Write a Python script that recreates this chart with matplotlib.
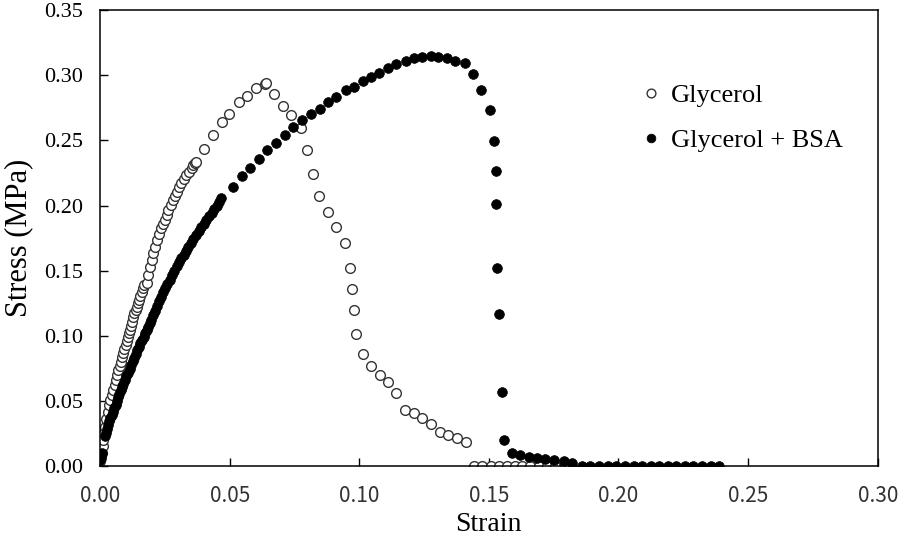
import matplotlib
matplotlib.use("Agg")
import matplotlib.pyplot as plt

# Glycerol (open circles)
gly_strain = [
    0.0000, 0.0002, 0.0007, 0.0010, 0.0013, 0.0015, 0.0019, 0.0024, 0.0030, 0.0035,
    0.0038, 0.0045, 0.0051, 0.0056, 0.0060, 0.0065, 0.0070, 0.0076, 0.0081, 0.0085,
    0.0090, 0.0094, 0.0099, 0.0103, 0.0107, 0.0111, 0.0115, 0.0118, 0.0122, 0.0127,
    0.0132, 0.0137, 0.0141, 0.0145, 0.0150, 0.0155, 0.0160, 0.0165, 0.0170, 0.0180,
    0.0186, 0.0192, 0.0199, 0.0205, 0.0212, 0.0218, 0.0227, 0.0237, 0.0243, 0.0250,
    0.0257, 0.0263, 0.0272, 0.0282, 0.0288, 0.0295, 0.0304, 0.0314, 0.0323, 0.0333,
    0.0342, 0.0353, 0.0360, 0.0365, 0.0372,
    0.0401, 0.0436, 0.0469, 0.0498, 0.0536, 0.0567, 0.0603, 0.0635, 0.0641, 0.0673,
    0.0705, 0.0737, 0.0776, 0.0800, 0.0820, 0.0846, 0.0878, 0.0910, 0.0946, 0.0963,
    0.0972, 0.0980, 0.0987, 0.1013, 0.1047, 0.1080, 0.1112, 0.1143, 0.1176, 0.1212,
    0.1243, 0.1276, 0.1312, 0.1343, 0.1376, 0.1410,
    0.1442, 0.1474, 0.1507, 0.1538, 0.1570, 0.1600, 0.1628, 0.1660, 0.1692, 0.1724,
    0.1757, 0.1795,
]
gly_stress = [
    0.0040, 0.0065, 0.0104, 0.0157, 0.0203, 0.0257, 0.0305, 0.0364, 0.0420, 0.0472,
    0.0510, 0.0548, 0.0587, 0.0625, 0.0663, 0.0702, 0.0740, 0.0773, 0.0804, 0.0836,
    0.0868, 0.0901, 0.0932, 0.0964, 0.0995, 0.1021, 0.1047, 0.1079, 0.1110, 0.1143,
    0.1175, 0.1200, 0.1225, 0.1251, 0.1277, 0.1308, 0.1340, 0.1367, 0.1392, 0.1405,
    0.1469, 0.1532, 0.1584, 0.1635, 0.1686, 0.1737, 0.1783, 0.1827, 0.1860, 0.1890,
    0.1929, 0.1967, 0.2005, 0.2044, 0.2074, 0.2107, 0.2140, 0.2172, 0.2205, 0.2235,
    0.2261, 0.2287, 0.2308, 0.2330, 0.2337,
    0.2435, 0.2542, 0.2642, 0.2699, 0.2798, 0.2837, 0.2899, 0.2933, 0.2939, 0.2853,
    0.2765, 0.2698, 0.2594, 0.2425, 0.2242, 0.2074, 0.1948, 0.1839, 0.1712, 0.1525,
    0.1361, 0.1202, 0.1016, 0.0860, 0.0773, 0.0704, 0.0650, 0.0566, 0.0433, 0.0413,
    0.0370, 0.0324, 0.0267, 0.0242, 0.0216, 0.0190,
    0.0, 0.0, 0.0, 0.0, 0.0, 0.0, 0.0, 0.0, 0.0, 0.0,
    0.0, 0.0,
]

# Glycerol + BSA (filled circles)
bsa_strain = [
    0.0000, 0.0003, 0.0006, 0.0020, 0.0024, 0.0028, 0.0032, 0.0036, 0.0040, 0.0045,
    0.0050, 0.0055, 0.0060, 0.0065, 0.0070, 0.0075, 0.0080, 0.0085, 0.0090, 0.0096,
    0.0102, 0.0108, 0.0114, 0.0120, 0.0126, 0.0132, 0.0138, 0.0144, 0.0150, 0.0156,
    0.0162, 0.0168, 0.0174, 0.0180, 0.0186, 0.0192, 0.0198, 0.0205, 0.0212, 0.0220,
    0.0228, 0.0236, 0.0244, 0.0252, 0.0260, 0.0269, 0.0278, 0.0287, 0.0296, 0.0305,
    0.0314, 0.0323, 0.0332, 0.0341, 0.0350, 0.0360, 0.0370, 0.0380, 0.0390, 0.0400,
    0.0410, 0.0420, 0.0430, 0.0440, 0.0450, 0.0460, 0.0468,
    0.0513, 0.0546, 0.0579, 0.0612, 0.0646, 0.0680, 0.0715, 0.0746, 0.0781, 0.0814,
    0.0848, 0.0881, 0.0912, 0.0947, 0.0981, 0.1013, 0.1047, 0.1077, 0.1112, 0.1143,
    0.1180, 0.1212, 0.1243, 0.1276, 0.1305, 0.1337, 0.1369, 0.1407, 0.1438, 0.1470,
    0.1503, 0.1520, 0.1526, 0.1528, 0.1533, 0.1541, 0.1549, 0.1558,
    0.1590, 0.1622, 0.1654, 0.1686, 0.1718, 0.1750, 0.1788, 0.1820,
    0.1859, 0.1892, 0.1925, 0.1958, 0.1991, 0.2024, 0.2058, 0.2091, 0.2124, 0.2157,
    0.2190, 0.2223, 0.2256, 0.2289, 0.2323, 0.2356, 0.2389,
]
bsa_stress = [
    0.0050, 0.0080, 0.0105, 0.0230, 0.0260, 0.0290, 0.0320, 0.0345, 0.0370, 0.0395,
    0.0420, 0.0448, 0.0475, 0.0503, 0.0530, 0.0557, 0.0583, 0.0609, 0.0635, 0.0663,
    0.0692, 0.0720, 0.0749, 0.0777, 0.0806, 0.0834, 0.0862, 0.0890, 0.0918, 0.0944,
    0.0970, 0.0996, 0.1022, 0.1048, 0.1073, 0.1098, 0.1123, 0.1160, 0.1195, 0.1230,
    0.1265, 0.1300, 0.1335, 0.1368, 0.1400, 0.1430, 0.1470, 0.1500, 0.1535, 0.1565,
    0.1595, 0.1625, 0.1655, 0.1683, 0.1712, 0.1745, 0.1775, 0.1805, 0.1835, 0.1862,
    0.1890, 0.1918, 0.1945, 0.1972, 0.2000, 0.2030, 0.2057,
    0.2146, 0.2224, 0.2289, 0.2354, 0.2423, 0.2483, 0.2542, 0.2601, 0.2657, 0.2703,
    0.2739, 0.2798, 0.2836, 0.2885, 0.2913, 0.2959, 0.2989, 0.3015, 0.3054, 0.3084,
    0.3110, 0.3130, 0.3138, 0.3148, 0.3138, 0.3130, 0.3110, 0.3092, 0.3008, 0.2887,
    0.2734, 0.2496, 0.2266, 0.2009, 0.1525, 0.1167, 0.0574, 0.0203,
    0.0106, 0.0088, 0.0075, 0.0063, 0.0055, 0.0050, 0.0044, 0.0029,
    0.0, 0.0, 0.0, 0.0, 0.0, 0.0, 0.0, 0.0, 0.0, 0.0,
    0.0, 0.0, 0.0, 0.0, 0.0, 0.0, 0.0,
]

xticks = [0.00, 0.05, 0.10, 0.15, 0.20, 0.25, 0.30]
yticks = [0.00, 0.05, 0.10, 0.15, 0.20, 0.25, 0.30, 0.35]

serif = "Liberation Serif"
sans = ["Noto Sans CJK JP", "DejaVu Sans"]

fig = plt.figure(figsize=(8.98, 5.47), dpi=100)
ax = fig.add_axes([0.1114, 0.1472, 0.8660, 0.8345])

ax.plot(gly_strain, gly_stress, ls="none", marker="o", ms=7.0,
        mfc="white", mec="#333333", mew=1.0, label="Glycerol")
ax.plot(bsa_strain, bsa_stress, ls="none", marker="o", ms=7.0,
        mfc="black", mec="black", mew=0.5, label="Glycerol + BSA")

ax.set_xlim(0, 0.30)
ax.set_ylim(0, 0.35)
ax.set_xticks(xticks)
ax.set_yticks(yticks)
ax.set_xticklabels(["%.2f" % v for v in xticks], family=sans, fontsize=15, color="#333333")
ax.set_yticklabels(["%.2f" % v for v in yticks], family=serif, fontsize=16)
ax.tick_params(direction="in", length=6, width=1.0, top=False, right=False)
ax.tick_params(axis="x", pad=13)
ax.tick_params(axis="y", pad=12)
for s in ax.spines.values():
    s.set_linewidth(1.1)

ax.set_xlabel("Strain", family=serif, fontsize=20, labelpad=4)
ax.set_ylabel("Stress (MPa)", family=serif, fontsize=22, labelpad=8)

leg = ax.legend(loc="upper left", bbox_to_anchor=(0.665, 0.89), frameon=False,
                prop={"family": serif, "size": 19}, handlelength=0.8,
                handletextpad=0.35, labelspacing=0.8, markerscale=0.9)

fig.savefig("out.png", dpi=100)
